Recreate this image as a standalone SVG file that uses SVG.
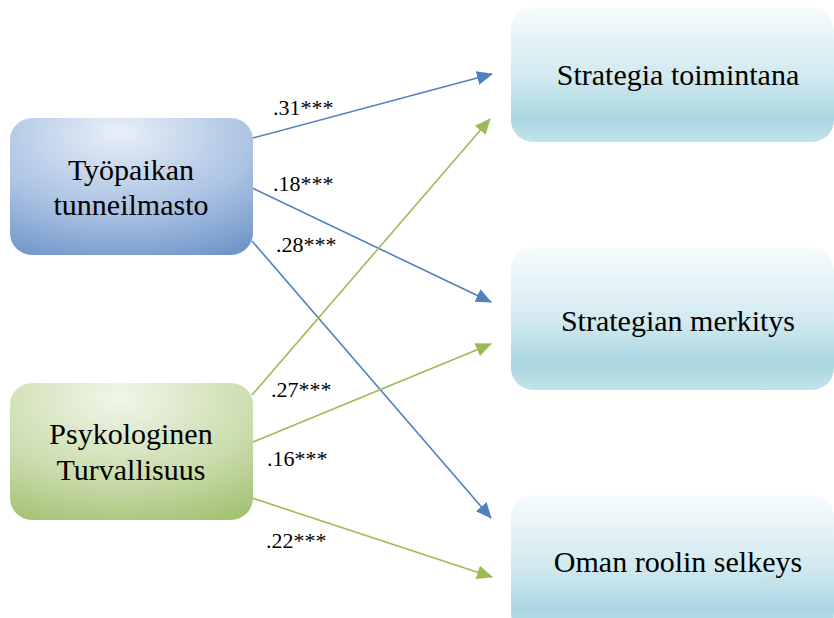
<svg xmlns="http://www.w3.org/2000/svg" width="834" height="618" viewBox="0 0 834 618">
<defs>
<radialGradient id="gBlue" cx="0.45" cy="0.15" r="0.95" fx="0.45" fy="0.1">
<stop offset="0" stop-color="#e8eff8"/>
<stop offset="0.6" stop-color="#a9c1e2"/>
<stop offset="1" stop-color="#6f96c9"/>
</radialGradient>
<radialGradient id="gGreen" cx="0.45" cy="0.15" r="0.95" fx="0.45" fy="0.1">
<stop offset="0" stop-color="#f1f6ea"/>
<stop offset="0.6" stop-color="#cadcac"/>
<stop offset="1" stop-color="#a3c272"/>
</radialGradient>
<linearGradient id="gCyan" x1="0" y1="0" x2="0" y2="1">
<stop offset="0" stop-color="#f6fbfc"/>
<stop offset="0.5" stop-color="#d3eaf0"/>
<stop offset="0.82" stop-color="#aad6e1"/>
<stop offset="1" stop-color="#c3e3ea"/>
</linearGradient>
<marker id="aBlue" markerUnits="userSpaceOnUse" markerWidth="16" markerHeight="14" refX="15" refY="7" orient="auto">
<path d="M0,0 L16,7 L0,14 Z" fill="#4f81bd"/>
</marker>
<marker id="aGreen" markerUnits="userSpaceOnUse" markerWidth="16" markerHeight="14" refX="15" refY="7" orient="auto">
<path d="M0,0 L16,7 L0,14 Z" fill="#9bbb59"/>
</marker>
</defs>
<style>
.node { font-size: 30px; text-anchor: middle; }
.lab { font-size: 22px; }
.cb { stroke: #4f81bd; stroke-width: 1.6; fill: none; marker-end: url(#aBlue); }
.cg { stroke: #9bbb59; stroke-width: 1.6; fill: none; marker-end: url(#aGreen); }
</style>
<rect width="834" height="618" fill="#ffffff"/>

<g font-family="'Liberation Serif', 'DejaVu Serif', serif" fill="#000000">
<g id="connectors">
<line class="cb" x1="253" y1="138" x2="492" y2="74"/>
<line class="cb" x1="248" y1="186" x2="491" y2="302"/>
<line class="cb" x1="252" y1="241" x2="491" y2="518"/>
<line class="cg" x1="252" y1="395" x2="490" y2="119"/>
<line class="cg" x1="253" y1="442" x2="491" y2="344"/>
<line class="cg" x1="252" y1="498" x2="492" y2="577"/>
<text class="lab" x="273" y="115">.31***</text>
<text class="lab" x="273" y="191">.18***</text>
<text class="lab" x="276" y="252">.28***</text>
<text class="lab" x="271" y="397">.27***</text>
<text class="lab" x="267" y="466">.16***</text>
<text class="lab" x="266" y="548">.22***</text>
</g>

<g id="tyopaikan">
<rect x="10" y="118" width="243" height="137" rx="22" fill="url(#gBlue)"/>
<text class="node" x="131" y="180">Työpaikan</text>
<text class="node" x="131" y="215">tunneilmasto</text>
</g>

<g id="psykologinen">
<rect x="10" y="383" width="243" height="137" rx="22" fill="url(#gGreen)"/>
<text class="node" x="131" y="444">Psykologinen</text>
<text class="node" x="131" y="480">Turvallisuus</text>
</g>

<g id="strategia-toimintana">
<rect x="511" y="8" width="323" height="134" rx="22" fill="url(#gCyan)"/>
<text class="node" x="678" y="85">Strategia toimintana</text>
</g>

<g id="strategian-merkitys">
<rect x="511" y="248" width="323" height="142" rx="22" fill="url(#gCyan)"/>
<text class="node" x="678" y="331">Strategian merkitys</text>
</g>

<g id="oman-roolin-selkeys">
<rect x="511" y="495" width="323" height="140" rx="22" fill="url(#gCyan)"/>
<text class="node" x="678" y="572">Oman roolin selkeys</text>
</g>
</g>
</svg>
